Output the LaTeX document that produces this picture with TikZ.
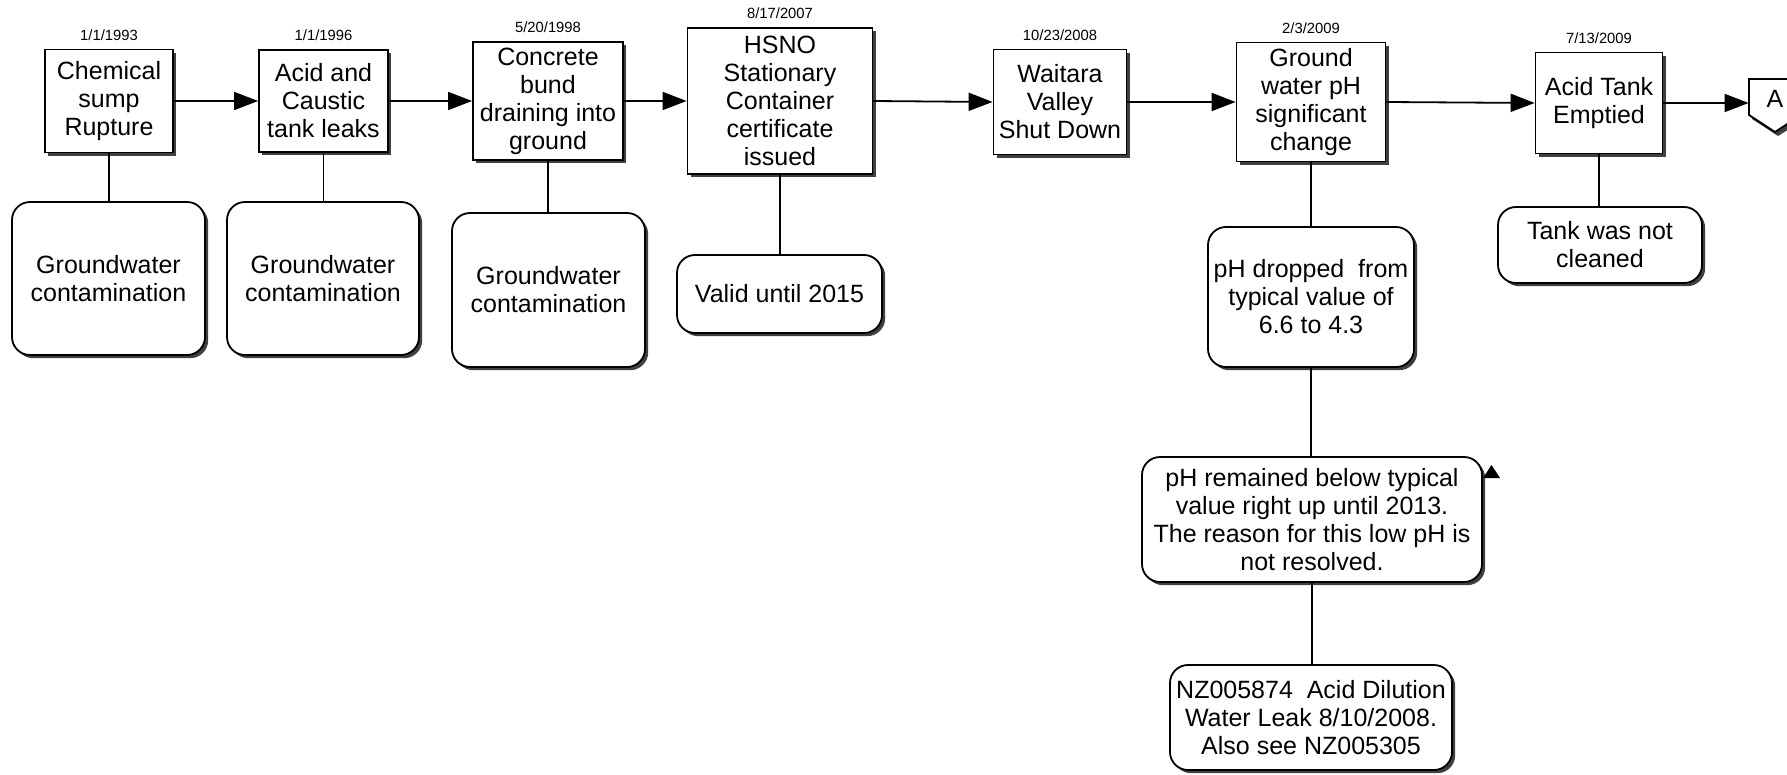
\documentclass[tikz,border=0pt]{standalone}
\usepackage{fontspec}
\setmainfont{Liberation Sans}
\usetikzlibrary{positioning,arrows.meta,shadows}
\newcommand{\boxfont}{\fontsize{12.5pt}{14pt}\selectfont}
\newcommand{\datefont}{\fontsize{7.4pt}{8pt}\selectfont}
\tikzset{
  event/.style={draw, fill=white, line width=0.9pt, align=center, inner sep=1pt, font=\boxfont,
    drop shadow={shadow xshift=1.6pt, shadow yshift=-1.6pt, fill=black!75, opacity=1}},
  note/.style={event, rounded corners=9pt},
  datelbl/.style={font=\datefont, inner sep=0pt},
  arr/.style={-{Triangle[length=12pt,width=9pt]}, line width=0.9pt},
  link/.style={line width=0.8pt}
}
\begin{document}
\begin{tikzpicture}[x=0.5pt, y=-0.5pt]
    \clip (0,0) rectangle (1787,775);
    % Events on the time line
    \node[event, minimum width=64pt, minimum height=51.5pt] (e1) at (109,101) {Chemical\\sump\\Rupture};
    \node[event, minimum width=64.5pt, minimum height=51pt] (e2) at (323.5,101) {Acid and\\Caustic\\tank leaks};
    \node[event, minimum width=75pt, minimum height=59pt] (e3) at (548,101) {Concrete\\bund\\draining into\\ground};
    \node[event, minimum width=92.5pt, minimum height=73pt] (e4) at (780,101) {HSNO\\Stationary\\Container\\certificate\\issued};
    \node[event, minimum width=66.5pt, minimum height=52.5pt] (e5) at (1060,102) {Waitara\\Valley\\Shut Down};
    \node[event, minimum width=74.5pt, minimum height=59.5pt] (e6) at (1311,102) {Ground\\water pH\\significant\\change};
    \node[event, minimum width=63.5pt, minimum height=50.5pt] (e7) at (1599,103) {Acid Tank\\Emptied};
    % Dates
    \node[datelbl, above=4pt of e1] (d1) {1/1/1993};
    \node[datelbl, above=4pt of e2] (d2) {1/1/1996};
    \node[datelbl, above=4pt of e3] (d3) {5/20/1998};
    \node[datelbl, above=4pt of e4] (d4) {8/17/2007};
    \node[datelbl, above=4pt of e5] (d5) {10/23/2008};
    \node[datelbl, above=4pt of e6] (d6) {2/3/2009};
    \node[datelbl, above=4pt of e7] (d7) {7/13/2009};
    % Off-page connector A
    \fill[black!75] (1752,83) -- (1805,83) -- (1805,119) -- (1778,136) -- (1752,119) -- cycle;
    \draw[fill=white, line width=0.9pt] (1749,79) -- (1801,79) -- (1801,115) -- (1775,132) -- (1749,115) -- cycle;
    \node[font=\boxfont, inner sep=0pt, minimum width=26pt, minimum height=18pt] (offA) at (1775,99) {A};
    % Time line arrows
    \draw[arr] (e1.east) -- (e2.west);
    \draw[arr] (e2.east) -- (e3.west);
    \draw[arr] (e3.east) -- (e4.west);
    \draw[arr] (e4.east) -- (e5.west);
    \draw[arr] (e5.east) -- (e6.west);
    \draw[arr] (e6.east) -- (e7.west);
    \draw[arr] (e7.east) -- (e7.east -| offA.west);
    % Notes
    \node[note, minimum width=96.5pt, minimum height=76.5pt] (n1) at (108.5,278.5) {Groundwater\\contamination};
    \node[note, minimum width=96pt, minimum height=76.5pt] (n2) at (323,278.5) {Groundwater\\contamination};
    \node[note, minimum width=96.5pt, minimum height=77pt] (n3) at (548.5,290) {Groundwater\\contamination};
    \node[note, minimum width=102.5pt, minimum height=39pt] (n4) at (779.5,294) {Valid until 2015};
    \node[note, minimum width=103pt, minimum height=70pt] (n6a) at (1311,297) {pH dropped~ from\\typical value of\\6.6 to 4.3};
    \node[note, minimum width=170pt, minimum height=62.5pt] (n6b) at (1312,519.5) {pH remained below typical\\value right up until 2013.\\The reason for this low pH is\\not resolved.};
    \node[note, minimum width=141pt, minimum height=52.5pt] (n6c) at (1311,717.5) {NZ005874~ Acid Dilution\\Water Leak 8/10/2008.\\Also see NZ005305};
    \node[note, minimum width=102pt, minimum height=38pt] (n7) at (1600,245) {Tank was not\\cleaned};
    % Note links
    \draw[link] (e1.south) -- (e1.south |- n1.north);
    \draw[link] (e2.south) -- (e2.south |- n2.north);
    \draw[link] (e3.south) -- (e3.south |- n3.north);
    \draw[link] (e4.south) -- (e4.south |- n4.north);
    \draw[link] (e6.south) -- (e6.south |- n6a.north);
    \draw[link] (n6a.south) -- (n6a.south |- n6b.north);
    \draw[link] (n6b.south) -- (n6b.south |- n6c.north);
    \draw[link] (e7.south) -- (e7.south |- n7.north);
    % marker on the note
    \fill (1483,478) -- (1500,478) -- (1491.5,465) -- cycle;
\end{tikzpicture}
\end{document}
